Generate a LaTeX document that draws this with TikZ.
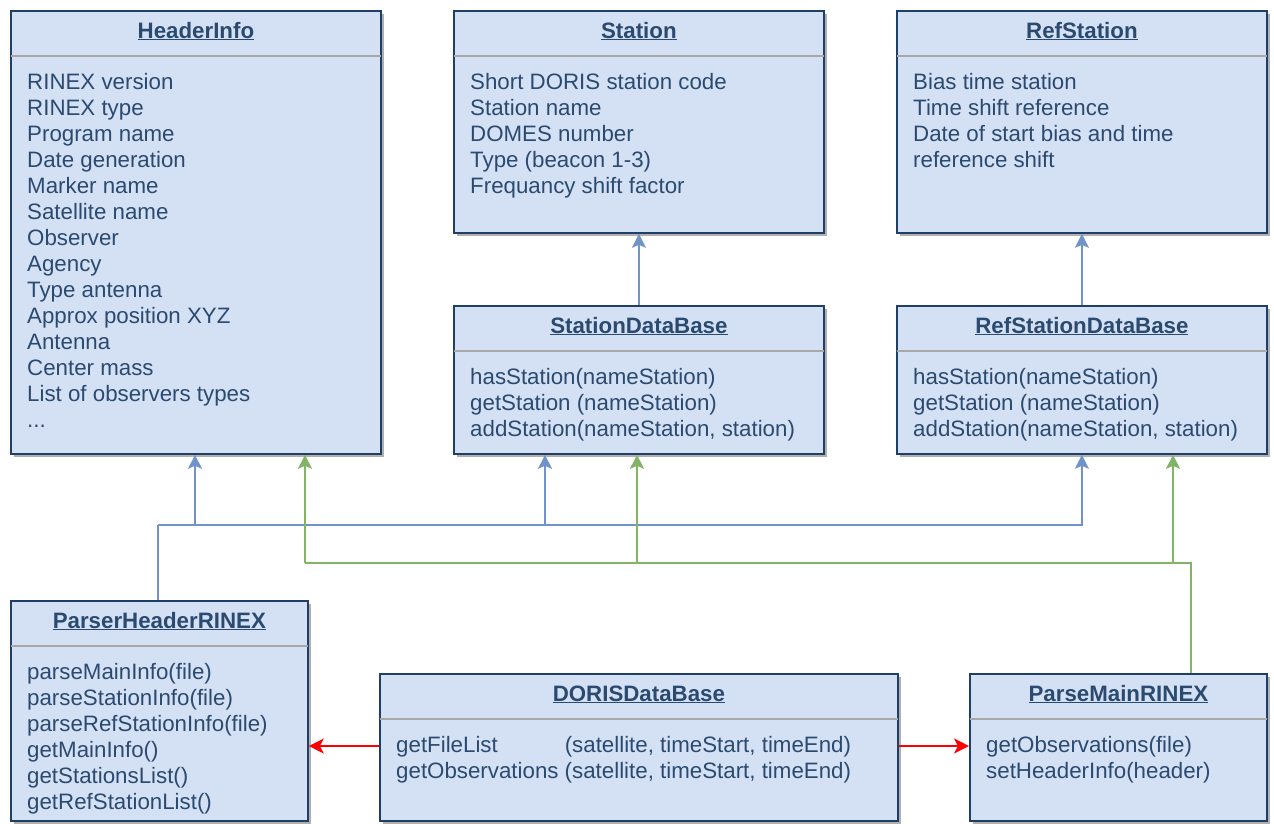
\documentclass[tikz,border=0pt]{standalone}
\usepackage{fontspec}
\setmainfont{Liberation Sans}
\usetikzlibrary{calc,shadows,arrows.meta}
\definecolor{boxfill}{HTML}{D4E1F5}
\definecolor{boxline}{HTML}{1F3F66}
\definecolor{txt}{HTML}{2B4A70}
\definecolor{shadowc}{HTML}{B0B0B0}
\definecolor{sepc}{HTML}{A8A8A8}
\definecolor{bluec}{HTML}{7094CA}
\definecolor{greenc}{HTML}{82B366}
\definecolor{redc}{HTML}{FF0000}
\tikzset{
  cls/.style={anchor=north west, draw=boxline, fill=boxfill, line width=1.8pt, inner sep=0pt,
    drop shadow={shadow xshift=3pt, shadow yshift=-3pt, fill=shadowc, opacity=1}},
  ttl/.style={anchor=base, inner sep=0pt, text=txt, font=\fontsize{22.3}{26}\selectfont\bfseries},
  sepline/.style={draw=sepc, line width=1.6pt},
  body/.style={anchor=north west, inner sep=0pt, align=left, text=txt, font=\fontsize{22.3}{26}\selectfont},
  barr/.style={draw=bluec, line width=1.5pt, -{Stealth[length=14pt, width=14pt, inset=3pt]}},
  bline/.style={draw=bluec, line width=1.5pt},
  garr/.style={draw=greenc, line width=1.5pt, -{Stealth[length=14pt, width=14pt, inset=3pt]}},
  gline/.style={draw=greenc, line width=1.5pt},
  rarr/.style={draw=redc, line width=1.5pt, -{Stealth[length=15pt, width=15pt, inset=4pt]}, fill=redc},
}
\newcommand\umlbox[7]{%
  \node[cls, minimum width=#4pt, minimum height=#5pt] (#1) at (#2,#3) {};
  \node[ttl] (#1-t) at ($(#1.north)+(0,28)$) {\underline{#6}};
  \draw[sepline] ($(#1.north west)+(1,46)$) -- ($(#1.north east)+(-1,46)$);
  \node[body] (#1-b) at ($(#1.north west)+(17,61)$) {#7};
}
\begin{document}
\begin{tikzpicture}[x=1pt,y=-1pt]
\useasboundingbox (0,0) rectangle (1274,823);

\umlbox{hi}{10}{10}{370}{443}{HeaderInfo}{\strut RINEX version\\RINEX type\\Program name\\Date generation\\Marker name\\Satellite name\\Observer\\Agency\\Type antenna\\Approx position XYZ\\Antenna\\Center mass\\List of observers types\\...}
\umlbox{st}{453}{10}{370}{222}{Station}{\strut Short DORIS station code\\Station name\\DOMES number\\Type (beacon 1-3)\\Frequancy shift factor}
\umlbox{rs}{896}{10}{370}{222}{RefStation}{\strut Bias time station\\Time shift reference\\Date of start bias and time\\reference shift}
\umlbox{sdb}{453}{305}{370}{148}{StationDataBase}{\strut hasStation(nameStation)\\getStation (nameStation)\\addStation(nameStation, station)}
\umlbox{rsdb}{896}{305}{370}{148}{RefStationDataBase}{\strut hasStation(nameStation)\\getStation (nameStation)\\addStation(nameStation, station)}
\umlbox{phr}{10}{600}{297}{220}{ParserHeaderRINEX}{\strut parseMainInfo(file)\\parseStationInfo(file)\\parseRefStationInfo(file)\\getMainInfo()\\getStationsList()\\getRefStationList()}
\umlbox{ddb}{379}{673}{518}{147}{DORISDataBase}{\begin{tabular}{@{}l@{ }l@{}}getFileList & (satellite, timeStart, timeEnd)\\getObservations & (satellite, timeStart, timeEnd)\end{tabular}}
\umlbox{pmr}{969}{673}{297}{147}{ParseMainRINEX}{\strut getObservations(file)\\setHeaderInfo(header)}

% Station -> database links
\draw[barr] (sdb.north) -- (st.south);
\draw[barr] (rsdb.north) -- (rs.south);

% blue connectors from ParserHeaderRINEX
\coordinate (bj) at (158,525);
\coordinate (b1) at (195,525);
\coordinate (b2) at (545,525);
\draw[bline] (bj |- phr.north) -- (bj);
\draw[barr] (bj) -| (rsdb.south);
\draw[barr] (b1) -- (b1 |- hi.south);
\draw[barr] (b2) -- (b2 |- sdb.south);

% green connectors from ParseMainRINEX
\coordinate (gj) at (1191,563);
\coordinate (g1) at (305,563);
\coordinate (g2) at (637,563);
\coordinate (g3) at (1173,563);
\draw[gline] (gj |- pmr.north) -- (gj) -- (g1);
\draw[garr] (g1) -- (g1 |- hi.south);
\draw[garr] (g2) -- (g2 |- sdb.south);
\draw[garr] (g3) -- (g3 |- rsdb.south);

% red arrows from DORISDataBase
\draw[rarr] (ddb.west |- 0,746) -- (phr.east |- 0,746);
\draw[rarr] (ddb.east |- 0,746) -- (pmr.west |- 0,746);
\end{tikzpicture}
\end{document}
